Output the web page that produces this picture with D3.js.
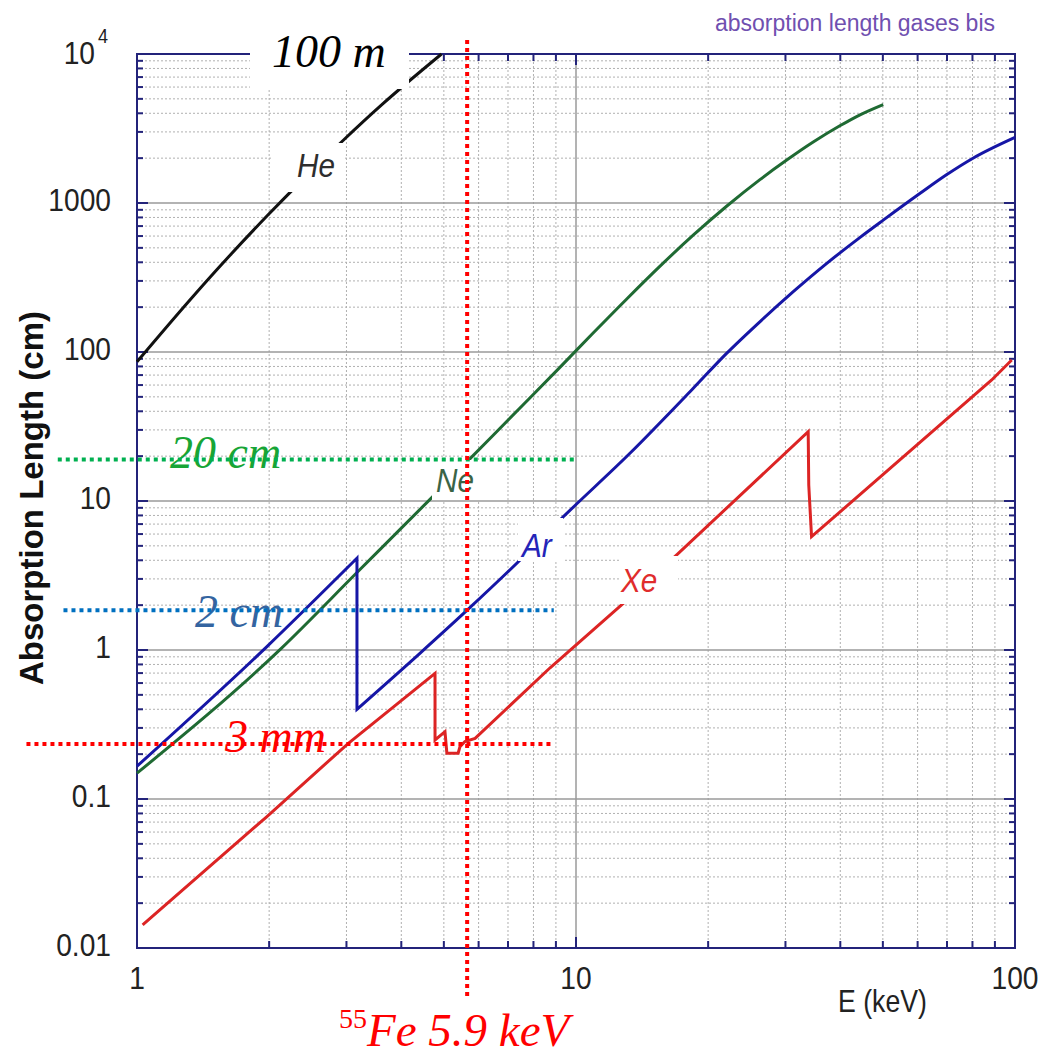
<!DOCTYPE html>
<html><head><meta charset="utf-8">
<script src="https://cdn.jsdelivr.net/npm/d3@7"></script>
<style>body{margin:0;background:#fff} svg{display:block}</style>
</head><body><svg id="c" width="1048" height="1058"></svg>
<script>
// ---------------- data ----------------
const heE = [1, 1.343, 1.629, 1.977, 2.312, 2.951, 3.639, 4.94];
const heL = [86, 237, 446, 817, 1309, 2638, 4660, 10000];
const neE = [1, 2.12, 3.17, 4.73, 5.65, 7.86, 9.19, 10.94, 13.05, 15.54, 18.49, 22.03, 26.24, 30.2, 34.7, 39.9, 44.36, 50.1];
const neL = [0.149, 1.01, 3.31, 10.79, 18.37, 49.3, 78.9, 134, 227, 377, 608, 951, 1435, 1941, 2564, 3296, 3908, 4581];
const arE = [1, 1.974, 3.17, 3.17, 4.41, 5.65, 7.46, 9.28, 13.27, 18.5, 22.0, 26.3, 31.3, 37.2, 44.3, 50.1, 60.8, 69.8, 80.4, 100];
const arL = [0.166, 1.05, 4.13, 0.40, 0.95, 1.85, 4.02, 7.66, 20.9, 57.1, 97.5, 160.7, 255, 392, 586, 767, 1161, 1545, 2004, 2754];
const xeE = [1.03, 1.974, 3.03, 4.774, 4.774, 5.03, 5.08, 5.39, 5.44, 5.585, 5.89, 8.73, 12.93, 16.96, 33.8, 33.9, 34.4, 88.5, 98.3];
const xeL = [0.0143, 0.076, 0.2366, 0.698, 0.249, 0.283, 0.203, 0.203, 0.224, 0.243, 0.255, 0.76, 2.1, 4.35, 29.2, 12.8, 5.76, 64.9, 88.3];

const xTickVals = [1, 10, 100];
const xTickLabels = ["1", "10", "100"];
const yTickVals = [0.01, 0.1, 1, 10, 100, 1000, 10000];
const yTickLabels = ["0.01", "0.1", "1", "10", "100", "1000", "10"];

const gasNames = ["He", "Ne", "Ar", "Xe"];
const refLevels = [19, 1.85, 0.234];          // 20 cm, 2 cm, 3 mm reference levels (cm)
const refLabels = ["20 cm", "2 cm", "3 mm"];
const fe55E = 5.65;                            // drawn position of the 55Fe line
const titleText = "absorption length gases bis";

// ---------------- scales ----------------
const svg = d3.select("#c");
const x = d3.scaleLog().domain([1, 100]).range([137, 1015]);
const y = d3.scaleLog().domain([0.01, 10000]).range([948, 54]);
const X0 = 137, X1 = 1015, Y0 = 948, Y1 = 54;

const minorX = [], minorY = [];
[1, 10].forEach(d => { for (let k = 2; k <= 9; k++) minorX.push(k * d); });
[0.01, 0.1, 1, 10, 100, 1000].forEach(d => { for (let k = 2; k <= 9; k++) minorY.push(k * d); });

const FRAME = "#23237a";
const SANS = "'Liberation Sans', Arial, Helvetica, sans-serif";
const SERIF = "'Liberation Serif', 'Times New Roman', serif";

// ---------------- grid ----------------
const g = svg.append("g");
g.selectAll(".mx").data(minorX).join("line")
  .attr("x1", d => x(d)).attr("x2", d => x(d)).attr("y1", Y1).attr("y2", Y0)
  .attr("stroke", "#b0b0b0").attr("stroke-width", 1).attr("stroke-dasharray", "2,2");
g.selectAll(".my").data(minorY).join("line")
  .attr("y1", d => y(d)).attr("y2", d => y(d)).attr("x1", X0).attr("x2", X1)
  .attr("stroke", "#b0b0b0").attr("stroke-width", 1).attr("stroke-dasharray", "2,2");
g.selectAll(".Mx").data([10]).join("line")
  .attr("x1", d => x(d)).attr("x2", d => x(d)).attr("y1", Y1).attr("y2", Y0)
  .attr("stroke", "#9a9a9a").attr("stroke-width", 1.5);
g.selectAll(".My").data(yTickVals.slice(1, -1)).join("line")
  .attr("y1", d => y(d)).attr("y2", d => y(d)).attr("x1", X0).attr("x2", X1)
  .attr("stroke", "#9a9a9a").attr("stroke-width", 1.5);

// ---------------- ticks & frame ----------------
const t = svg.append("g").attr("stroke", FRAME).attr("stroke-width", 2);
const yt = minorY.map(v => ({v, L: 6})).concat(yTickVals.map(v => ({v, L: 11})));
const xt = minorX.map(v => ({v, L: 7})).concat(xTickVals.map(v => ({v, L: 11})));
t.selectAll(".yl").data(yt).join("line").attr("x1", X0).attr("x2", d => X0 + d.L).attr("y1", d => y(d.v)).attr("y2", d => y(d.v));
t.selectAll(".yr").data(yt).join("line").attr("x1", X1).attr("x2", d => X1 - d.L).attr("y1", d => y(d.v)).attr("y2", d => y(d.v));
t.selectAll(".xb").data(xt).join("line").attr("y1", Y0).attr("y2", d => Y0 - d.L).attr("x1", d => x(d.v)).attr("x2", d => x(d.v));
t.selectAll(".xt").data(xt).join("line").attr("y1", Y1).attr("y2", d => Y1 + d.L).attr("x1", d => x(d.v)).attr("x2", d => x(d.v));
svg.append("rect").attr("x", X0).attr("y", Y1).attr("width", X1 - X0).attr("height", Y0 - Y1)
  .attr("fill", "none").attr("stroke", FRAME).attr("stroke-width", 2);

// ---------------- curves ----------------
function seriesPath(E, L, curve) {
  const gen = d3.line().x(d => x(d[0])).y(d => y(d[1])).curve(curve);
  const pts = E.map((e, i) => [e, L[i]]);
  const runs = [];
  let cur = [pts[0]];
  for (let i = 1; i < pts.length; i++) {
    if (pts[i][0] > pts[i - 1][0] && pts[i][1] >= pts[i - 1][1]) cur.push(pts[i]);
    else { runs.push(cur); cur = [pts[i]]; }
  }
  runs.push(cur);
  let d = "";
  runs.forEach((r, k) => {
    let seg = r.length > 1 ? gen(r) : `M${x(r[0][0])},${y(r[0][1])}`;
    if (k > 0) seg = "L" + seg.slice(1);
    d += seg;
  });
  return d;
}
const series = [
  {name: "He", E: heE, L: heL, color: "#111111", curve: d3.curveMonotoneX},
  {name: "Ne", E: neE, L: neL, color: "#1f6a33", curve: d3.curveMonotoneX},
  {name: "Ar", E: arE, L: arL, color: "#1616a6", curve: d3.curveMonotoneX},
  {name: "Xe", E: xeE, L: xeL, color: "#dc2424", curve: d3.curveLinear}
];
svg.append("g").selectAll("path").data(series).join("path")
  .attr("d", s => seriesPath(s.E, s.L, s.curve))
  .attr("fill", "none").attr("stroke", s => s.color).attr("stroke-width", 3)
  .attr("stroke-linejoin", "miter");

// ---------------- gas labels (white boxes break the curves) ----------------
const gasLabel = [
  {name: gasNames[0], bx: 272, by: 143, bw: 73, bh: 49, tx: 297, ty: 177, color: "#2e2e2e"},
  {name: gasNames[1], bx: 432, by: 460, bw: 53, bh: 40, tx: 436, ty: 492, color: "#3a6446"},
  {name: gasNames[2], bx: 518, by: 518, bw: 45, bh: 43, tx: 522, ty: 557, color: "#2424b8"},
  {name: gasNames[3], bx: 620, by: 556, bw: 58, bh: 48, tx: 621, ty: 592, color: "#e02c2c"}
];
const gl = svg.append("g");
gl.selectAll("rect").data(gasLabel).join("rect")
  .attr("x", d => d.bx).attr("y", d => d.by).attr("width", d => d.bw).attr("height", d => d.bh).attr("fill", "#fff");
gl.selectAll("text").data(gasLabel).join("text")
  .attr("transform", d => `translate(${d.tx},${d.ty}) scale(0.9,1)`)
  .attr("font-family", SANS).attr("font-style", "italic").attr("font-size", 33)
  .attr("fill", d => d.color).text(d => d.name);

// ---------------- axis tick labels ----------------
const yl = svg.append("g").attr("font-family", SANS).attr("font-size", 32).attr("fill", "#222");
yl.selectAll("text").data(yTickVals).join("text")
  .attr("transform", (d, i) => `translate(${i === 6 ? 95 : 111},${y(d) + (i === 6 ? 10 : 8)}) scale(0.88,1)`)
  .attr("text-anchor", "end").text((d, i) => yTickLabels[i]);
yl.append("text").attr("transform", `translate(98,${y(10000) - 11}) scale(0.9,1)`)
  .attr("font-size", 20).text("4");
const xl = svg.append("g").attr("font-family", SANS).attr("font-size", 32).attr("fill", "#222");
xl.selectAll("text").data(xTickVals).join("text")
  .attr("transform", d => `translate(${x(d)},989) scale(0.88,1)`)
  .attr("text-anchor", "middle").text((d, i) => xTickLabels[i]);
svg.append("text").attr("transform", "translate(838,1012) scale(0.86,1)")
  .attr("font-family", SANS).attr("font-size", 31).attr("fill", "#222").text("E (keV)");
svg.append("text").attr("transform", "translate(43,685) rotate(-90)")
  .attr("font-family", SANS).attr("font-weight", "bold").attr("font-size", 33).attr("fill", "#111")
  .text("Absorption Length (cm)");
svg.append("text").attr("x", 995).attr("y", 31).attr("text-anchor", "end")
  .attr("font-family", SANS).attr("font-size", 23).attr("fill", "#7050b0").text(titleText);

// ---------------- annotations ----------------
svg.append("rect").attr("x", 250).attr("y", 22).attr("width", 159).attr("height", 67).attr("fill", "#fff");
svg.append("text").attr("x", 272).attr("y", 67).attr("font-family", SERIF).attr("font-style", "italic")
  .attr("font-size", 46).attr("fill", "#000").text("100 m");

const refs = [
  {v: refLevels[0], label: refLabels[0], color: "#00b050", tcolor: "#17a536", e0: 0.66, e1: 10.0, tx: 170, dy: 9},
  {v: refLevels[1], label: refLabels[1], color: "#0070c0", tcolor: "#3464a0", e0: 0.68, e1: 8.9, tx: 195, dy: 17},
  {v: refLevels[2], label: refLabels[2], color: "#ff0000", tcolor: "#ff0000", e0: 0.56, e1: 8.9, tx: 225, dy: 8}
];
const rg = svg.append("g");
rg.selectAll("text").data(refs).join("text")
  .attr("x", d => d.tx).attr("y", d => y(d.v) + d.dy)
  .attr("font-family", SERIF).attr("font-style", "italic").attr("font-size", 46)
  .attr("fill", d => d.tcolor).text(d => d.label);
rg.selectAll("line").data(refs).join("line")
  .attr("x1", d => x(d.e0)).attr("x2", d => x(d.e1)).attr("y1", d => y(d.v)).attr("y2", d => y(d.v))
  .attr("stroke", d => d.color).attr("stroke-width", 4).attr("stroke-dasharray", "4,4");

svg.append("line").attr("x1", x(fe55E)).attr("x2", x(fe55E)).attr("y1", 40).attr("y2", 997)
  .attr("stroke", "#ff0000").attr("stroke-width", 4).attr("stroke-dasharray", "4,4");
const fe = svg.append("text").attr("x", 339).attr("y", 1046).attr("font-family", SERIF)
  .attr("font-style", "italic").attr("fill", "#ff0000");
fe.append("tspan").attr("font-size", 28).attr("dy", -18).attr("font-style", "normal").text("55");
fe.append("tspan").attr("font-size", 47).attr("dy", 18).text("Fe 5.9 keV");
</script></body></html>
